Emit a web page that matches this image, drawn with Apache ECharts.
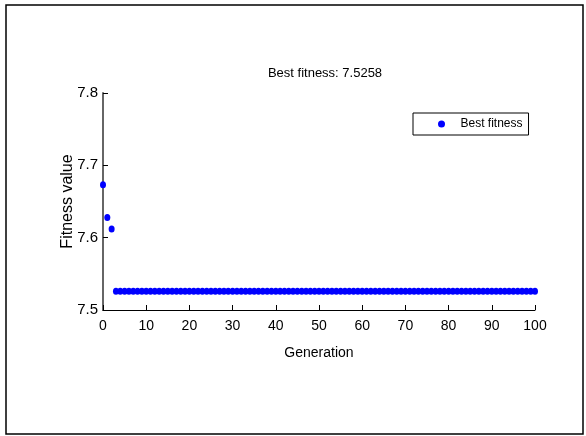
<!DOCTYPE html>
<html><head><meta charset="utf-8">
<script src="https://cdn.jsdelivr.net/npm/echarts@6/dist/echarts.min.js"></script>
<style>html,body{margin:0;padding:0;background:#fff}#c{width:586px;height:436px}</style>
</head><body><div id="c"></div>
<script>
var titleText = 'Best fitness: 7.5258';
var seriesName = 'Best fitness';
var xName = 'Generation';
var yName = 'Fitness value';
var earlyGenerations = [0, 1, 2];
var earlyValues = [7.673, 7.628, 7.612];
var bestValue = 7.5258;
var lastGeneration = 100;
var xTicks = [0, 10, 20, 30, 40, 50, 60, 70, 80, 90, 100];
var yTicks = [7.5, 7.6, 7.7, 7.8];

var data = [];
earlyGenerations.forEach(function (g, i) { data.push([g, earlyValues[i]]); });
for (var g = earlyGenerations.length; g <= lastGeneration; g++) data.push([g, bestValue]);

var font = 'Liberation Sans, Arial, sans-serif';
var chart = echarts.init(document.getElementById('c'), null, {renderer: 'canvas'});
chart.setOption({
  animation: false,
  backgroundColor: '#fff',
  title: {text: titleText, left: 320, top: 62, textAlign: 'center',
    textStyle: {fontFamily: font, fontSize: 13, fontWeight: 'normal', color: '#000'}},
  legend: {
    data: [{name: seriesName, icon: 'circle'}],
    left: 413, top: 113, orient: 'vertical',
    itemWidth: 28, itemHeight: 7,
    padding: [5, 6, 5, 25],
    borderColor: '#000', borderWidth: 1,
    textStyle: {fontFamily: font, fontSize: 12, color: '#000'}
  },
  grid: {left: 103, right: 51, top: 93, bottom: 126, containLabel: false},
  xAxis: {
    type: 'value', min: xTicks[0], max: xTicks[xTicks.length - 1], interval: 10,
    name: xName, nameLocation: 'middle', nameGap: 36,
    nameTextStyle: {fontFamily: font, fontSize: 14, color: '#000'},
    axisLine: {lineStyle: {color: '#000', width: 1}},
    axisTick: {inside: true, length: 5, lineStyle: {color: '#000'}},
    axisLabel: {fontFamily: font, fontSize: 14, color: '#000', margin: 9},
    splitLine: {show: false}
  },
  yAxis: {
    type: 'value', min: yTicks[0], max: yTicks[yTicks.length - 1], interval: 0.1,
    name: yName, nameLocation: 'middle', nameGap: 27, nameRotate: 90,
    nameMoveOverlap: false,
    nameTextStyle: {fontFamily: font, fontSize: 16, color: '#000'},
    axisLine: {lineStyle: {color: '#666', width: 2}},
    axisTick: {inside: true, length: 5, lineStyle: {color: '#000'}},
    axisLabel: {fontFamily: font, fontSize: 15, color: '#000', margin: 5,
      formatter: function (v) { return v.toFixed(1); }},
    splitLine: {show: false}
  },
  series: [{
    name: seriesName, type: 'scatter', data: data,
    symbol: 'circle', symbolSize: [6, 7],
    itemStyle: {color: '#0000ff', opacity: 1}
  }],
  graphic: [{
    type: 'rect', silent: true,
    shape: {x: 6, y: 5, width: 577, height: 429},
    style: {fill: null, stroke: '#000', lineWidth: 1.5}
  }]
});
</script></body></html>
